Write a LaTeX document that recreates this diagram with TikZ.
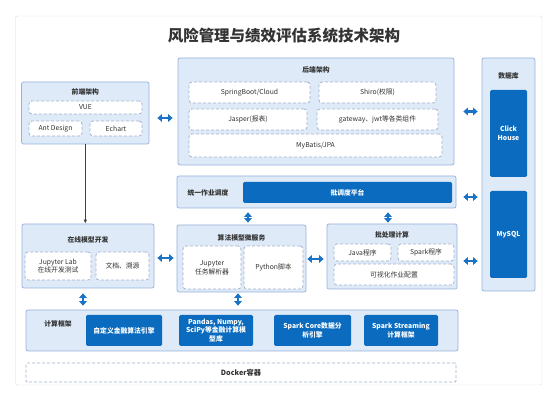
\documentclass[tikz,border=0pt]{standalone}
\usepackage{fontspec}
\setmainfont{Noto Sans CJK SC}
\usepackage{tikz}
\usetikzlibrary{arrows.meta}

\definecolor{panelfill}{HTML}{DEEAF8}
\definecolor{panelline}{HTML}{97B2DC}
\definecolor{dashline}{HTML}{A3B3CE}
\definecolor{deepblue}{HTML}{0B6CBF}
\definecolor{arrowblue}{HTML}{1A73C6}
\definecolor{inktext}{HTML}{333333}
\definecolor{framegray}{HTML}{DCDCDC}

\begin{document}
\begin{tikzpicture}[x=1pt, y=-1pt,
    every node/.style={font=\fontsize{6.8}{8.6}\selectfont, text=inktext, inner sep=0pt, align=center},
    panel/.style={draw=panelline, fill=panelfill, line width=0.7pt, rounded corners=2pt},
    dbox/.style={draw=dashline, fill=white, line width=0.8pt, dash pattern=on 3pt off 2pt, rounded corners=3pt},
    solid/.style={fill=deepblue, rounded corners=1.5pt, text=white, font=\fontsize{6.8}{8.6}\selectfont\bfseries},
    head/.style={font=\fontsize{6.8}{8.6}\selectfont\bfseries},
    dbl/.style={{Triangle[width=7.5pt,length=4.5pt]}-{Triangle[width=7.5pt,length=4.5pt]}, line width=2.4pt, draw=arrowblue},
    down/.style={-{Triangle[width=7.5pt,length=4.5pt]}, line width=2.4pt, draw=arrowblue}
  ]
  \useasboundingbox (0,0) rectangle (558,401);
  % white sheet
  \draw[draw=framegray, fill=white, rounded corners=2pt] (15.5,16) rectangle (542,385);
  \node[font=\fontsize{15.5}{18}\selectfont\bfseries] (title) at (284,35.5) {风险管理与绩效评估系统技术架构};

  % front end
  \node[panel, minimum width=127.5pt, minimum height=62pt] (front) at (85.3,113) {};
  \node[head] (fronthead) at (85.3,92) {前端架构};
  \node[dbox, minimum width=113pt, minimum height=13pt] (vue) at (85.5,107.5) {VUE};
  \node[dbox, minimum width=53pt, minimum height=15pt] (antd) at (55.5,128.5) {Ant Design};
  \node[dbox, minimum width=52pt, minimum height=15pt] (echart) at (116,128.5) {Echart};

  % back end
  \node[panel, minimum width=276pt, minimum height=107pt] (back) at (316,111.5) {};
  \node[head] (backhead) at (316,70) {后端架构};
  \node[dbox, minimum width=121pt, minimum height=21pt] (spring) at (249.5,92.5) {SpringBoot/Cloud};
  \node[dbox, minimum width=117pt, minimum height=21pt] (shiro) at (377.5,92.5) {Shiro(权限)};
  \node[dbox, minimum width=118pt, minimum height=21pt] (jasper) at (248,119.5) {Jasper(报表)};
  \node[dbox, minimum width=121pt, minimum height=21pt] (gateway) at (377.5,119.5) {gateway、jwt等各类组件};
  \node[dbox, minimum width=253pt, minimum height=23pt] (mybatis) at (315.5,145.5) {MyBatis/JPA};

  % database
  \node[panel, minimum width=53pt, minimum height=233pt] (db) at (508.5,174.5) {};
  \node[head] (dbhead) at (508.5,76) {数据库};
  \node[solid, minimum width=37pt, minimum height=87pt] (click) at (508.5,133.5) {Click\\House};
  \node[solid, minimum width=37pt, minimum height=87pt] (mysql) at (508.5,234.5) {MySQL};

  % job scheduling
  \node[panel, minimum width=279pt, minimum height=32pt] (sched) at (316.5,192) {};
  \node[head] (schedhead) at (208,193) {统一作业调度};
  \node[solid, minimum width=209pt, minimum height=21pt] (platform) at (347.5,192.5) {批调度平台};

  % online model development
  \node[panel, minimum width=132pt, minimum height=64pt] (online) at (88,256) {};
  \node[head] (onlinehead) at (88,240) {在线模型开发};
  \node[dbox, minimum width=66pt, minimum height=28pt] (jlab) at (58,266) {Jupyter Lab\\在线开发测试};
  \node[dbox, minimum width=53pt, minimum height=28pt] (docs) at (122.5,266) {文档、溯源};

  % model micro services
  \node[panel, minimum width=129pt, minimum height=67pt] (alg) at (241.5,258.5) {};
  \node[head] (alghead) at (241.5,238) {算法模型微服务};
  \node[dbox, minimum width=58pt, minimum height=43pt] (jtask) at (212,267.5) {Jupyter\\任务解析器};
  \node[dbox, minimum width=59pt, minimum height=43pt] (python) at (273.5,267.5) {Python脚本};

  % batch computing
  \node[panel, minimum width=130pt, minimum height=65pt] (batch) at (392,256.5) {};
  \node[head] (batchhead) at (392,235) {批处理计算};
  \node[dbox, minimum width=57pt, minimum height=17pt] (java) at (362.5,252.5) {Java程序};
  \node[dbox, minimum width=56pt, minimum height=17pt] (spark) at (426,252.5) {Spark程序};
  \node[dbox, minimum width=120pt, minimum height=21pt] (visual) at (394,274.5) {可视化作业配置};

  % computing frameworks
  \node[panel, minimum width=432pt, minimum height=41pt] (compute) at (242,330.5) {};
  \node[head] (computehead) at (58,324) {计算框架};
  \node[solid, minimum width=76pt, minimum height=31pt] (engine) at (124,330.5) {自定义金融算法引擎};
  \node[solid, minimum width=74pt, minimum height=31pt] (pandas) at (216,330.5) {Pandas, Numpy,\\SciPy等金融计算模\\型库};
  \node[solid, minimum width=77pt, minimum height=31pt] (sparkcore) at (312.5,330.5) {Spark Core数据分\\析引擎};
  \node[solid, minimum width=74pt, minimum height=31pt] (streaming) at (401,330.5) {Spark Streaming\\计算框架};

  % docker
  \node[dbox, rounded corners=1pt, minimum width=430pt, minimum height=19pt, font=\fontsize{7.2}{8.6}\selectfont\bfseries] (docker) at (241,372.5) {Docker容器};

  % connectors
  \draw[-{Latex[length=4pt,width=3.5pt]}, draw=black!75, line width=0.8pt] (front.south) -- (front.south |- online.north);
  \draw[dbl, shorten <=8pt, shorten >=5pt] ([yshift=-5pt]front.east) -- ([yshift=-5pt]front.east -| back.west);
  \draw[dbl, shorten <=9pt, shorten >=4pt] (back.east) -- (back.east -| db.west);
  \draw[dbl, shorten <=7pt, shorten >=4pt] ([yshift=-5pt]sched.east) -- ([yshift=-5pt]sched.east -| db.west);
  \draw[dbl, shorten <=6pt, shorten >=4pt] ([yshift=-4.5pt]batch.east) -- ([yshift=-4.5pt]batch.east -| db.west);
  \draw[dbl, shorten <=3pt, shorten >=3pt] ([yshift=-2pt]online.east) -- ([yshift=-2pt]online.east -| alg.west);
  \draw[dbl, shorten <=1pt, shorten >=3pt] ([yshift=-0.5pt]alg.east) -- ([yshift=-0.5pt]alg.east -| batch.west);
  \draw[dbl, shorten <=4pt, shorten >=2pt] ([xshift=6.5pt]alg.north |- sched.south) -- ([xshift=6.5pt]alg.north);
  \draw[dbl, shorten <=4pt, shorten >=1pt] ([xshift=-4pt]batch.north |- sched.south) -- ([xshift=-4pt]batch.north);
  \draw[dbl, shorten <=5pt, shorten >=4pt] ([xshift=-5pt]online.south) -- ([xshift=-5pt]online.south |- compute.north);
  \draw[dbl, shorten <=1pt, shorten >=4pt] ([xshift=-3.5pt]alg.south) -- ([xshift=-3.5pt]alg.south |- compute.north);
\end{tikzpicture}
\end{document}
